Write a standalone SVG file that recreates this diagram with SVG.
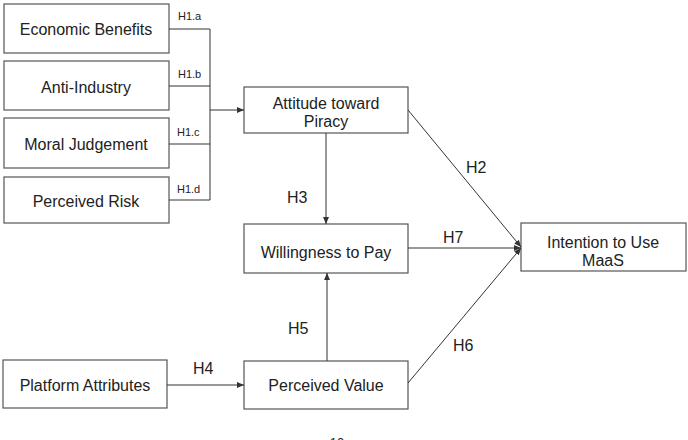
<svg xmlns="http://www.w3.org/2000/svg" width="688" height="440" viewBox="0 0 688 440">
<style>
.box{fill:#fff;stroke:#555;stroke-width:1.2}
.t{font-family:"Liberation Sans",Arial,sans-serif;font-size:16px;fill:#222;text-anchor:middle}
.h{font-family:"Liberation Sans",Arial,sans-serif;font-size:16px;fill:#222}
.hs{font-family:"Liberation Sans",Arial,sans-serif;font-size:11px;fill:#222}
.ln{fill:none;stroke:#333;stroke-width:1}
</style>
<defs>
<marker id="a" markerWidth="8" markerHeight="6" refX="7" refY="3" orient="auto" markerUnits="userSpaceOnUse">
<path d="M0,0 L7,3 L0,6 Z" fill="#333"/>
</marker>
</defs>
<rect width="688" height="440" fill="#fff"/>
<g id="economic-benefits"><rect class="box" x="4" y="4" width="165" height="49"/><text class="t" x="86" y="35">Economic Benefits</text></g>
<g id="anti-industry"><rect class="box" x="4" y="61" width="165" height="49"/><text class="t" x="86" y="93">Anti-Industry</text></g>
<g id="moral-judgement"><rect class="box" x="4" y="118" width="165" height="50"/><text class="t" x="86" y="150">Moral Judgement</text></g>
<g id="perceived-risk"><rect class="box" x="4" y="177" width="165" height="46"/><text class="t" x="86" y="207">Perceived Risk</text></g>
<g id="attitude"><rect class="box" x="244" y="87" width="164" height="46"/><text class="t" x="326" y="109">Attitude toward</text><text class="t" x="326" y="127">Piracy</text></g>
<g id="willingness"><rect class="box" x="244" y="224" width="164" height="49"/><text class="t" x="326" y="258">Willingness to Pay</text></g>
<g id="intention"><rect class="box" x="521" y="223" width="165" height="48"/><text class="t" x="603" y="248">Intention to Use</text><text class="t" x="603" y="266">MaaS</text></g>
<g id="platform"><rect class="box" x="3" y="360" width="164" height="48"/><text class="t" x="85" y="391">Platform Attributes</text></g>
<g id="perceived-value"><rect class="box" x="244" y="361" width="164" height="48"/><text class="t" x="326" y="391">Perceived Value</text></g>
<g id="connectors">
<path class="ln" d="M169,29 H210 M169,86 H210 M169,144 H210 M169,200 H210 M210,29 V200"/>
<path class="ln" d="M210,110 H244" marker-end="url(#a)"/>
<path class="ln" d="M326,133 V224" marker-end="url(#a)"/>
<path class="ln" d="M327,361 V273" marker-end="url(#a)"/>
<path class="ln" d="M167,385 H244" marker-end="url(#a)"/>
<path class="ln" d="M408,110 L521,247" marker-end="url(#a)"/>
<path class="ln" d="M408,248 H521" marker-end="url(#a)"/>
<path class="ln" d="M408,383 L521,248" marker-end="url(#a)"/>
<text class="hs" x="178" y="20">H1.a</text>
<text class="hs" x="178" y="78">H1.b</text>
<text class="hs" x="177" y="136">H1.c</text>
<text class="hs" x="177" y="193">H1.d</text>
<text class="h" x="287" y="203">H3</text>
<text class="h" x="288" y="334">H5</text>
<text class="h" x="193" y="374">H4</text>
<text class="h" x="466" y="173">H2</text>
<text class="h" x="443" y="243">H7</text>
<text class="h" x="453" y="351">H6</text>
</g>
<text class="hs" x="337" y="447" style="font-size:13px;text-anchor:middle">10</text>
</svg>
